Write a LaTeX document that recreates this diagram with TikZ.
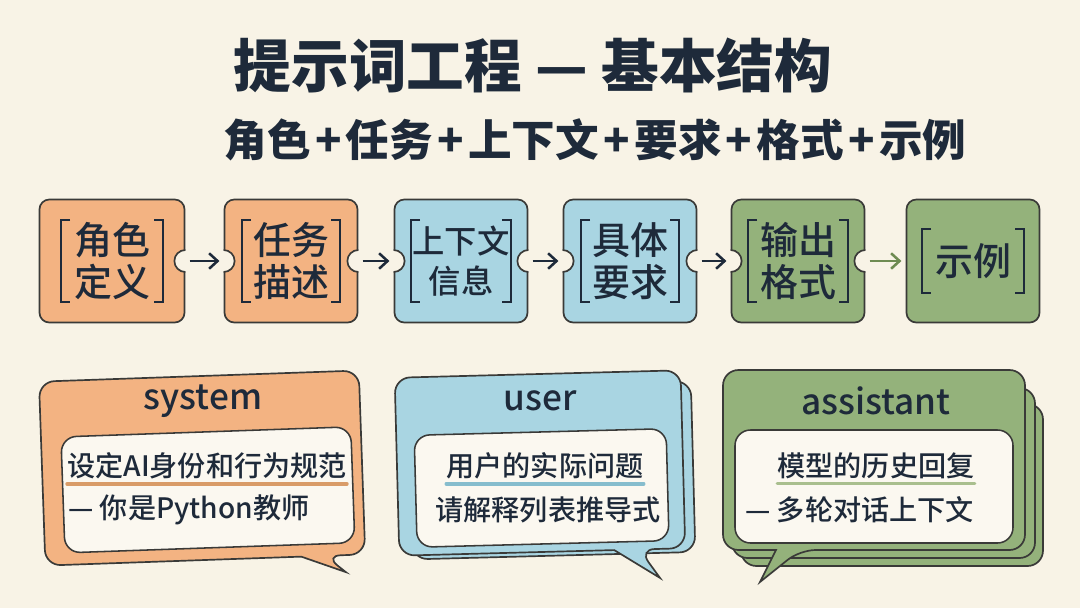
\documentclass[tikz,border=0pt]{standalone}
\usepackage{fontspec}
\setmainfont{Noto Sans CJK SC}
\newfontfamily\medfont{Noto Sans CJK SC Medium}
\usetikzlibrary{arrows.meta,calc}

\definecolor{bgC}{HTML}{F8F3E6}
\definecolor{inkC}{HTML}{1E2A3A}
\definecolor{lineC}{HTML}{3A3A38}
\definecolor{paperC}{HTML}{FBF8F0}
\definecolor{orangeF}{HTML}{F3B382}
\definecolor{blueF}{HTML}{A9D5E2}
\definecolor{greenF}{HTML}{94B27B}
\definecolor{orangeU}{HTML}{D99C68}
\definecolor{blueU}{HTML}{86BDCD}
\definecolor{greenU}{HTML}{A9BF8E}
\definecolor{greenA}{HTML}{6E8B52}

% notch on the right / left side of a puzzle piece
\newcommand{\notchR}[1]{%
  \fill[bgC] (#1.east) circle (11);
  \draw[lineC,line width=1.2pt] ($(#1.east)+(0,11)$) arc[start angle=90,end angle=270,radius=11];}
\newcommand{\notchL}[1]{%
  \fill[bgC] (#1.west) circle (11);
  \draw[lineC,line width=1.2pt] ($(#1.west)+(0,-11)$) arc[start angle=-90,end angle=90,radius=11];}
% square brackets round the text of a piece
\newcommand{\brackets}[3]{%
  \draw[brk] ($(#1.center)+(-#2+9,-#3)$) -- ++(-9,0) -- ++(0,2*#3) -- ++(9,0);
  \draw[brk] ($(#1.center)+(#2-9,-#3)$) -- ++(9,0) -- ++(0,2*#3) -- ++(-9,0);}
\newcommand{\pl}{\hspace{0.1em}+\hspace{0.1em}}

\begin{document}
\begin{tikzpicture}[x=0.025cm,y=-0.025cm,
    piece/.style={draw=lineC,line width=1.2pt,rounded corners=7pt,minimum height=3.075cm,
      minimum width=3.325cm,inner sep=0pt,text=inkC,font=\medfont\fontsize{27}{30}\selectfont,align=center},
    brk/.style={draw=inkC,line width=2pt},
    arr/.style={draw=inkC,line width=1.8pt,-{Straight Barb[length=6pt,width=11pt]},
      shorten <=3pt,shorten >=3pt},
    bubble/.style={draw=lineC,line width=1.2pt,rounded corners=11pt},
    inner/.style={draw=lineC,line width=1.1pt,fill=paperC,rounded corners=11pt},
    speaker/.style={text=inkC,font=\medfont\fontsize{25}{28}\selectfont},
    msg/.style={text=inkC,inner sep=0pt,font=\medfont\fontsize{20}{24}\selectfont},
    uline/.style={line width=2.5pt,line cap=round}]
    \fill[bgC] (0,0) rectangle (1080,608);
    \useasboundingbox (0,0) rectangle (1080,608);
    % Title
    \node[text=inkC,font=\fontsize{41}{46}\selectfont\bfseries] (title) at (533,65) {提示词工程 — 基本结构};
    \node[text=inkC,font=\fontsize{31}{36}\selectfont\bfseries] (subtitle) at (595,140)
      {角色\pl 任务\pl 上下文\pl 要求\pl 格式\pl 示例};
    % Puzzle row
    \node[piece,fill=orangeF,minimum width=3.625cm] (role) at (112,261) {角色\\定义};
    \node[piece,fill=orangeF] (task) at (291,261) {任务\\描述};
    \node[piece,fill=blueF,font=\medfont\fontsize{23}{29}\selectfont] (context) at (461,261) {上下文\\信息};
    \node[piece,fill=blueF] (require) at (630,261) {具体\\要求};
    \node[piece,fill=greenF] (format) at (798,261) {输出\\格式};
    \node[piece,fill=greenF] (example) at (973,261) {示例};
    \notchR{role}
    \notchL{task} \notchR{task}
    \notchL{context} \notchR{context}
    \notchL{require} \notchR{require}
    \notchL{format} \notchR{format}
    \brackets{role}{51}{41}
    \brackets{task}{49}{41}
    \brackets{context}{50}{41}
    \brackets{require}{49}{41}
    \brackets{format}{50}{41}
    \brackets{example}{51}{32}
    % Arrows
    \draw[arr] (role) -- (task);
    \draw[arr] (task) -- (context);
    \draw[arr] (context) -- (require);
    \draw[arr] (require) -- (format);
    \draw[arr,draw=greenA] (format) -- (example);
    % system bubble
    \begin{scope}[rotate around={2:(203,465)}]
      \draw[bubble,fill=orangeF] (42,376) -- (362,376) -- (362,560) -- (322,560)
        [sharp corners] -- (342,577) -- (298,560) [rounded corners=11pt] -- (42,560) -- cycle;
      \draw[inner] (62,432) rectangle (352,548);
    \end{scope}
    \node[speaker] (sysName) at (203,401) {system};
    \node[msg] (sysLine1) at (207,466) {设定AI身份和行为规范};
    \node[msg,anchor=west] (sysLine2) at (68,510) {— 你是Python教师};
    \draw[uline,draw=orangeU] ([yshift=-3pt]sysLine1.south west) -- ([yshift=-3pt]sysLine1.south east);
    % user bubble
    \begin{scope}[rotate around={1.5:(540,465)}]
      \draw[bubble,fill=blueF] (410,385) rectangle (693,556);
      \draw[bubble,fill=blueF] (397,374) -- (683,374) -- (683,552) -- (637,552)
        [sharp corners] -- (657,581) -- (612,552) [rounded corners=11pt] -- (397,552) -- cycle;
      \draw[inner] (415,432) rectangle (667,544);
    \end{scope}
    \node[speaker] (userName) at (540,401) {user};
    \node[msg] (userLine1) at (545,466) {用户的实际问题};
    \node[msg] (userLine2) at (548,510) {请解释列表推导式};
    \draw[uline,draw=blueU] ([yshift=-3pt]userLine1.south west) -- ([yshift=-3pt]userLine1.south east);
    % assistant bubble
    \draw[bubble,fill=greenF] (741,404) rectangle (1043,566);
    \draw[bubble,fill=greenF] (732,388) rectangle (1035,558);
    \draw[bubble,fill=greenF] (723,370) -- (1025,370) -- (1025,550) -- (800,550)
      [sharp corners] -- (760,582) -- (776,550) [rounded corners=11pt] -- (723,550) -- cycle;
    \draw[inner] (735,430) rectangle (1013,543);
    \node[speaker] (asstName) at (876,401) {assistant};
    \node[msg] (asstLine1) at (876,466) {模型的历史回复};
    \node[msg,anchor=west] (asstLine2) at (745,510) {— 多轮对话上下文};
    \draw[uline,draw=greenU] ([yshift=-3pt]asstLine1.south west) -- ([yshift=-3pt]asstLine1.south east);
\end{tikzpicture}
\end{document}
